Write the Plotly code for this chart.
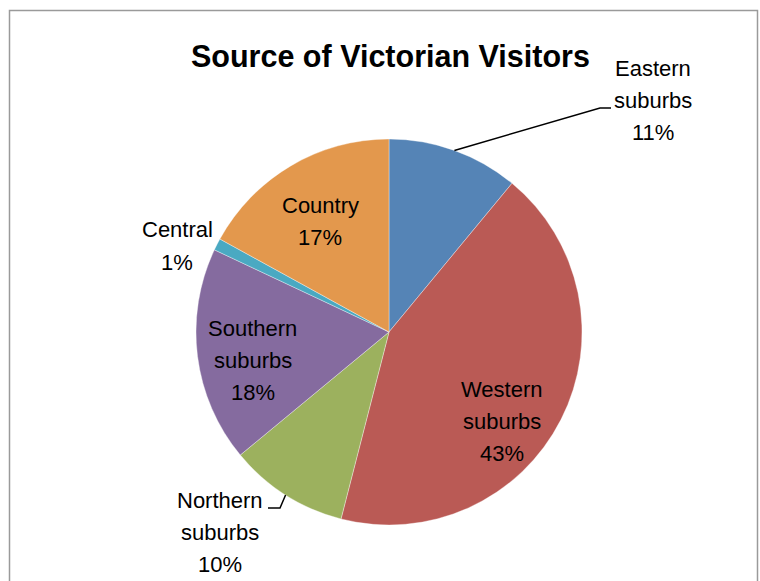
import math
import plotly.graph_objects as go

# Visitor sources, clockwise from 12 o'clock
categories = ["Eastern suburbs", "Western suburbs", "Northern suburbs",
              "Southern suburbs", "Central", "Country"]
shares = [11, 43, 10, 18, 1, 17]
colors = ["#5584B6", "#BA5A55", "#9CB15E", "#856B9F", "#4AA9C2", "#E3984D"]

W, H = 760, 581
CX, CY, R = 389, 332, 193  # pie centre and radius in pixels

# Label block centres (pixels) and optional leader-line elbows
label_pos = {
    "Eastern suburbs": (653, 100),
    "Western suburbs": (502, 421),
    "Northern suburbs": (220, 532),
    "Southern suburbs": (253, 360),
    "Central": (177, 246),
    "Country": (320, 221),
}
leaders = {
    "Eastern suburbs": [(600, 108), (611, 108)],
    "Northern suburbs": [(280, 508), (268, 508)],
}
LINE_GAP = 32  # pixels between label lines
LABEL_FONT = "Liberation Sans, Arial, sans-serif"
LABEL_SIZE = 22


def px(x, y):
    return x / W, 1 - y / H


fig = go.Figure(go.Pie(
    labels=categories,
    values=shares,
    sort=False,
    direction="clockwise",
    rotation=0,
    marker=dict(colors=colors, line=dict(color="rgba(255,255,255,0.6)", width=0.6)),
    textinfo="none",
    hoverinfo="label+percent",
    showlegend=False,
    domain=dict(x=[(CX - R) / W, (CX + R) / W], y=[1 - (CY + R) / H, 1 - (CY - R) / H]),
))

annotations = []
shapes = []
total = sum(shares)
cum = 0
for name, v in zip(categories, shares):
    mid = (cum + v / 2) / total * 2 * math.pi
    cum += v
    lx, ly = label_pos[name]
    lines = name.split(" ") + [f"{v}%"]
    n = len(lines)
    for i, line in enumerate(lines):
        yy = ly + (i - (n - 1) / 2) * LINE_GAP
        ax, ay = px(lx, yy)
        annotations.append(dict(
            x=ax, y=ay, xref="paper", yref="paper", text=line, showarrow=False,
            xanchor="center", yanchor="middle", align="center",
            font=dict(family=LABEL_FONT, size=LABEL_SIZE, color="#000000"),
        ))
    if name in leaders:
        ex, ey = CX + R * math.sin(mid), CY - R * math.cos(mid)
        pts = [(ex, ey)] + leaders[name]
        path = "M " + " L ".join(f"{px(x, y)[0]:.5f},{px(x, y)[1]:.5f}" for x, y in pts)
        shapes.append(dict(type="path", xref="paper", yref="paper", path=path,
                           line=dict(color="#000000", width=1.5)))

# Title
tx, ty = px(390, 56)
annotations.append(dict(
    x=tx, y=ty, xref="paper", yref="paper", showarrow=False,
    text="<b>Source of Victorian Visitors</b>", xanchor="center", yanchor="middle",
    font=dict(family="Liberation Sans, Arial, sans-serif", size=30.5, color="#000000"),
))

# Chart frame
x0, y0 = px(9.5, 10.5)
x1, y1 = px(757.5, 600)
shapes.append(dict(type="rect", xref="paper", yref="paper", x0=x0, y0=y0, x1=x1, y1=y1,
                   line=dict(color="#9a9a9a", width=1.5), fillcolor="rgba(0,0,0,0)"))

fig.update_layout(
    width=W, height=H,
    margin=dict(l=0, r=0, t=0, b=0),
    paper_bgcolor="#FFFFFF",
    plot_bgcolor="#FFFFFF",
    annotations=annotations,
    shapes=shapes,
)

fig.write_html("out.html")
